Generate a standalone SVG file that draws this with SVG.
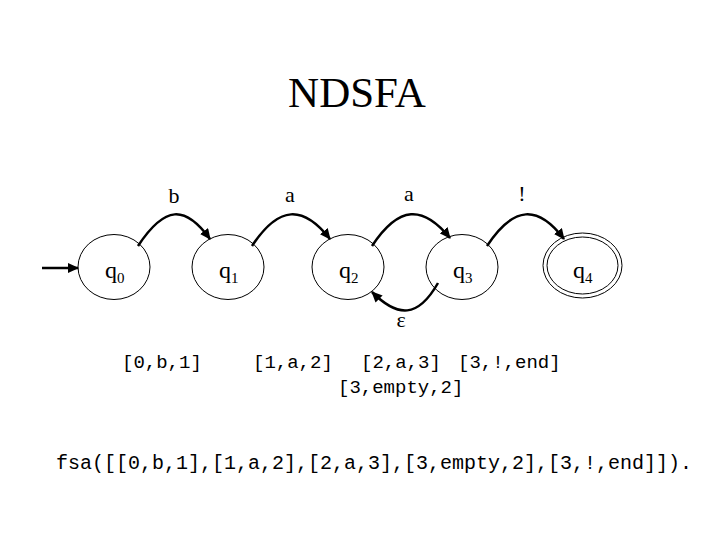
<svg xmlns="http://www.w3.org/2000/svg" width="720" height="540" viewBox="0 0 720 540">
<style>
.st{fill:none;stroke:#000;stroke-width:1}
.lbl{font-family:"Liberation Serif","Times New Roman",serif;font-size:24px;fill:#000}
.sub{font-size:15px}
.edge{fill:none;stroke:#000;stroke-width:2.5;marker-end:url(#ah)}
.el{font-family:"Liberation Serif","Times New Roman",serif;font-size:22px;fill:#000;text-anchor:middle}
.mono{font-family:"Liberation Mono","Courier New",monospace;font-size:19px;fill:#000}
.big{font-size:20px}
</style>
<defs>
<marker id="ah" markerWidth="12" markerHeight="10" refX="10" refY="5" orient="auto" markerUnits="userSpaceOnUse">
<path d="M0,0 L11,5 L0,10 z" fill="#000"/>
</marker>
</defs>
<rect width="720" height="540" fill="#fff"/>
<text x="357" y="107" text-anchor="middle" font-family="Liberation Serif, Times New Roman, serif" font-size="43">NDSFA</text>
<g id="q0"><ellipse class="st" cx="114" cy="267" rx="36" ry="32.5"/><text class="lbl" x="105" y="278">q<tspan class="sub" dy="5">0</tspan></text></g>
<g id="q1"><ellipse class="st" cx="228" cy="267" rx="36" ry="32.5"/><text class="lbl" x="219" y="278">q<tspan class="sub" dy="5">1</tspan></text></g>
<g id="q2"><ellipse class="st" cx="348" cy="267" rx="36" ry="32.5"/><text class="lbl" x="339" y="278">q<tspan class="sub" dy="5">2</tspan></text></g>
<g id="q3"><ellipse class="st" cx="462" cy="267" rx="36" ry="32.5"/><text class="lbl" x="453" y="278">q<tspan class="sub" dy="5">3</tspan></text></g>
<g id="q4"><ellipse class="st" cx="582.5" cy="265.5" rx="39.5" ry="32.5"/><ellipse class="st" cx="582.5" cy="265.5" rx="35.5" ry="28.5"/><text class="lbl" x="573" y="278">q<tspan class="sub" dy="5">4</tspan></text></g>
<g id="connectors">
<line class="edge" x1="42" y1="268" x2="78" y2="268"/>
<path class="edge" d="M138,246 C165,205 185,205 210,239"/>
<path class="edge" d="M252,246 C279,205 303,205 330,239"/>
<path class="edge" d="M372,246 C399,205 423,205 450,238"/>
<path class="edge" d="M487,246 C514,205 538,205 564,239"/>
<path class="edge" d="M438,283 C418,318 398,318 372,292"/>
<text class="el" x="174" y="203">b</text>
<text class="el" x="290" y="202">a</text>
<text class="el" x="409" y="201">a</text>
<text class="el" x="522" y="201">!</text>
<text class="el" x="401" y="327">ε</text>
</g>
<text class="mono" x="122" y="368">[0,b,1]</text>
<text class="mono" x="253" y="368">[1,a,2]</text>
<text class="mono" x="361" y="368">[2,a,3]</text>
<text class="mono" x="458" y="368">[3,!,end]</text>
<text class="mono" x="338" y="393">[3,empty,2]</text>
<text class="mono big" x="56" y="469">fsa([[0,b,1],[1,a,2],[2,a,3],[3,empty,2],[3,!,end]]).</text>
</svg>
